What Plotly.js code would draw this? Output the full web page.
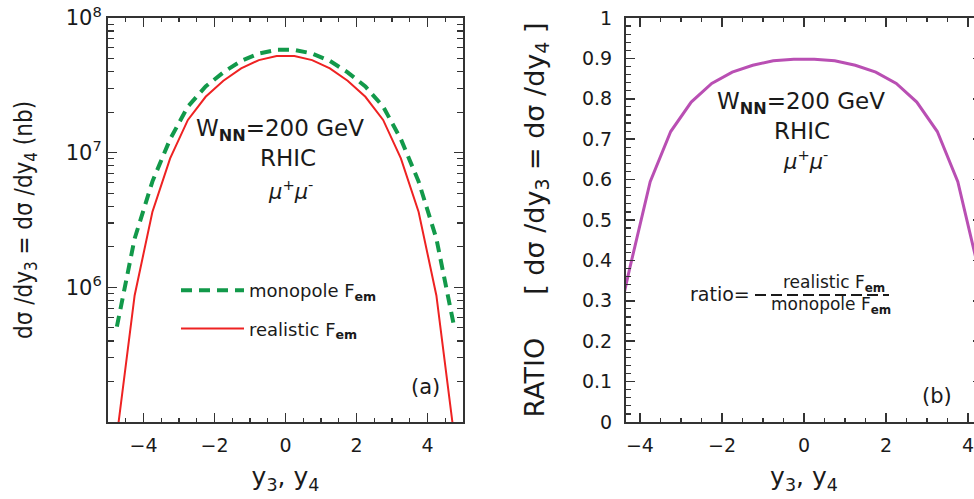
<!DOCTYPE html>
<html><head><meta charset="utf-8">
<script src="https://cdn.plot.ly/plotly-3.0.1.min.js"></script>
<style>
html,body{margin:0;padding:0;overflow:hidden;background:#fff;width:974px;height:499px}
#chart{width:990px;height:499px}
</style>
</head><body><div id="chart"></div>
<script>
// ---- data ----
const rapidity = [-4.75,-4.25,-3.75,-3.25,-2.75,-2.25,-1.75,-1.25,-0.75,-0.25,0.25,0.75,1.25,1.75,2.25,2.75,3.25,3.75,4.25,4.75];
const realisticFem = [7.9e4,8.7e5,3.63e6,9.06e6,1.75e7,2.6e7,3.42e7,4.23e7,4.87e7,5.22e7,5.22e7,4.87e7,4.23e7,3.42e7,2.6e7,1.75e7,9.06e6,3.63e6,8.7e5,7.9e4];
const monopoleFem = [5.1e5,2.3e6,6.1e6,1.26e7,2.2e7,3.1e7,3.95e7,4.8e7,5.45e7,5.8e7,5.8e7,5.45e7,4.8e7,3.95e7,3.1e7,2.2e7,1.26e7,6.1e6,2.3e6,5.1e5];
const ratioValues = [0.155,0.38,0.595,0.719,0.792,0.838,0.866,0.883,0.894,0.898,0.898,0.894,0.883,0.866,0.838,0.792,0.719,0.595,0.38,0.155];
const xTickVals = [-4,-2,0,2,4];
const logTickVals = [1e6,1e7,1e8];
const logTickText = ['10<sup>6</sup>','10<sup>7</sup>','10<sup>8</sup>'];
const ratioTickVals = [0,0.1,0.2,0.3,0.4,0.5,0.6,0.7,0.8,0.9,1];
const ratioTickText = ['0','0.1','0.2','0.3','0.4','0.5','0.6','0.7','0.8','0.9','1'];

// ---- styling ----
const FONT = '"DejaVu Sans", Verdana, sans-serif';
const FONT_C = '"DejaVu Sans Condensed", "DejaVu Sans", sans-serif';
const AX = '#333333';
const TXT = '#1a1a1a';
const L = 108, R = 8, T = 18, B = 77, W = 990, H = 499;
const PW = W - L - R, PH = H - T - B;
const xp = px => (px - L) / PW;
const yp = py => (H - B - py) / PH;

const minorLog = [];
for (let e = 5; e < 8; e++) for (let m = 2; m < 10; m++) minorLog.push(m * Math.pow(10, e));

const axisCommon = {
  showline: true, linecolor: AX, linewidth: 2, mirror: 'allticks',
  ticks: 'inside', ticklen: 9, tickwidth: 1.5, tickcolor: AX,
  showgrid: false, zeroline: false,
  tickfont: {family: FONT, size: 19, color: TXT}
};

const traces = [
  {x: rapidity, y: monopoleFem, xaxis: 'x', yaxis: 'y', mode: 'lines',
   name: 'monopole F<sub><b>em</b></sub>', legendgroup: 'g1',
   line: {color: '#12994a', width: 4, dash: '11px,7px'}},
  {x: rapidity, y: realisticFem, xaxis: 'x', yaxis: 'y', mode: 'lines',
   name: 'realistic F<sub><b>em</b></sub>', legendgroup: 'g2',
   line: {color: '#ee2222', width: 2}},
  {x: rapidity, y: ratioValues, xaxis: 'x2', yaxis: 'y2', mode: 'lines',
   name: 'ratio', showlegend: false,
   line: {color: '#b94fb3', width: 3}}
];

const xTitle = {text: 'y<sub>3</sub>, y<sub>4</sub>', font: {family: FONT, size: 25, color: TXT}, standoff: 13};
const minorX = {ticks: 'inside', dtick: 0.5, tick0: 0, ticklen: 4, tickwidth: 1.2, tickcolor: AX};

const ann = (px, py, text, size, extra) => Object.assign({
  xref: 'paper', yref: 'paper', x: xp(px), y: yp(py), xanchor: 'center', yanchor: 'middle',
  text: text, showarrow: false, font: {family: FONT, size: size, color: TXT}
}, extra || {});

const layout = {
  width: W, height: H,
  margin: {l: L, r: R, t: T, b: B},
  paper_bgcolor: '#ffffff', plot_bgcolor: '#ffffff',
  font: {family: FONT, color: TXT},
  showlegend: true,
  legend: {x: xp(176), y: yp(272), xanchor: 'left', yanchor: 'top', itemwidth: 63,
           bgcolor: 'rgba(0,0,0,0)', borderwidth: 0, tracegroupgap: 12,
           font: {family: FONT, size: 18, color: TXT}},
  xaxis: Object.assign({}, axisCommon, {
    domain: [0, xp(463)], range: [-5, 5], anchor: 'y',
    tickmode: 'array', tickvals: xTickVals, ticklabelstandoff: 5,
    minor: minorX, title: xTitle
  }),
  yaxis: Object.assign({}, axisCommon, {
    type: 'log', range: [5, 8], domain: [0, 1], anchor: 'x',
    tickmode: 'array', tickvals: logTickVals, ticktext: logTickText,
    tickfont: {family: FONT, size: 21, color: TXT},
    minor: {ticks: 'inside', tickmode: 'array', tickvals: minorLog, ticklen: 6, tickwidth: 1.2, tickcolor: AX},
    title: {text: 'dσ /dy<sub>3</sub> = dσ /dy<sub>4</sub> (nb)', font: {family: FONT_C, size: 24, color: TXT}, standoff: 26}
  }),
  xaxis2: Object.assign({}, axisCommon, {
    domain: [xp(626), 1], range: [-4.34, 4.34], anchor: 'y2',
    tickmode: 'array', tickvals: xTickVals, ticklabelstandoff: 5,
    minor: minorX, title: xTitle
  }),
  yaxis2: Object.assign({}, axisCommon, {
    range: [0, 1], domain: [0, 1], anchor: 'x2',
    tickmode: 'array', tickvals: ratioTickVals, ticktext: ratioTickText, ticklabelstandoff: 8,
    minor: {ticks: 'inside', dtick: 0.02, tick0: 0, ticklen: 5, tickwidth: 1.2, tickcolor: AX},
    title: {text: 'RATIO&nbsp;&nbsp;&nbsp;&nbsp;&nbsp;[ dσ /dy<sub>3</sub> = dσ /dy<sub>4</sub> ]', font: {family: FONT, size: 27, color: TXT}, standoff: 30}
  }),
  annotations: [
    ann(280, 130, 'W<sub><b>NN</b></sub>=200 GeV', 23),
    ann(288, 158, 'RHIC', 23),
    ann(290, 190, '<i>μ</i><sup>+</sup><i>μ</i><sup>-</sup>', 21),
    ann(801, 103, 'W<sub><b>NN</b></sub>=200 GeV', 23),
    ann(802, 131, 'RHIC', 23),
    ann(805, 160, '<i>μ</i><sup>+</sup><i>μ</i><sup>-</sup>', 21),
    ann(425, 387, '(a)', 21),
    ann(937, 396, '(b)', 21),
    ann(752, 294, 'ratio=', 19, {xanchor: 'right'}),
    ann(834, 283, 'realistic F<sub><b>em</b></sub>', 17),
    ann(831, 305, 'monopole F<sub><b>em</b></sub>', 17)
  ],
  shapes: [
    {type: 'line', xref: 'paper', yref: 'paper', x0: xp(755), x1: xp(889), y0: yp(295), y1: yp(295),
     line: {color: TXT, width: 2, dash: '11px,5px'}}
  ]
};

Plotly.newPlot('chart', traces, layout, {displayModeBar: false, staticPlot: true});
</script>
</body></html>
